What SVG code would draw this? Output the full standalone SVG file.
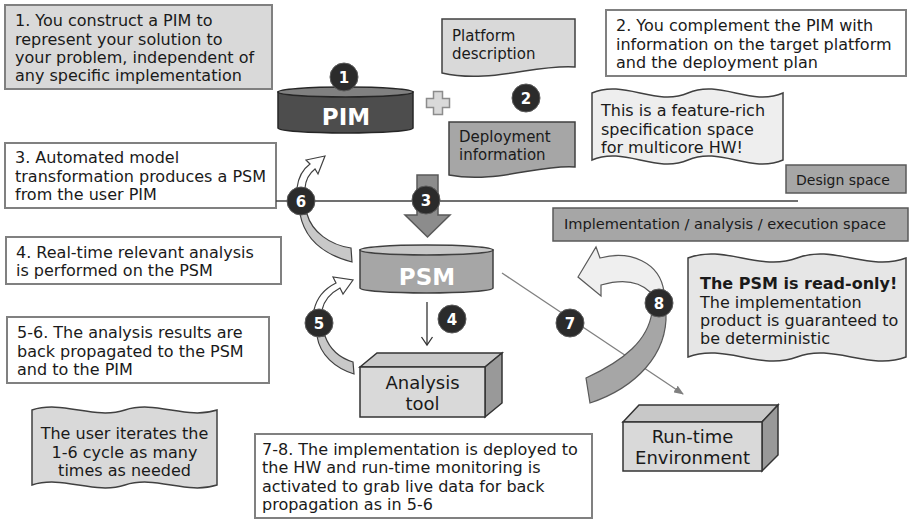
<svg xmlns="http://www.w3.org/2000/svg" width="910" height="520" viewBox="0 0 910 520">
<defs>
<style>
text{font-family:"DejaVu Sans","Verdana",sans-serif;fill:#1a1a1a}
.t{font-size:16px}
.s{font-size:15px}
.m{font-size:14px}
.big{font-size:18px}
.box{stroke:#808080;stroke-width:2}
.shape{stroke:#404040;stroke-width:1.5}
.num circle{fill:#2b2b2b;stroke:#5a5a5a;stroke-width:1}
.num text{fill:#fff;font-weight:bold;font-size:15px;text-anchor:middle}
.cyl text{fill:#fff;font-weight:bold;text-anchor:middle}
.conn{stroke:#404040;stroke-width:1.2}
</style>
<marker id="ah" markerWidth="10" markerHeight="8" refX="9" refY="4" orient="auto" markerUnits="userSpaceOnUse">
<path d="M0,0 L10,4 L0,8 Z" fill="#808080"/>
</marker>
</defs>
<rect width="910" height="520" fill="#fff"/>

<g id="box1">
<rect x="5" y="5" width="267" height="84" fill="#d9d9d9" class="box"/>
<text class="t" x="15" y="26">1. You construct a PIM to</text>
<text class="t" x="15" y="44.5">represent your solution to</text>
<text class="t" x="15" y="63">your problem, independent of</text>
<text class="t" x="15" y="81">any specific implementation</text>
</g>

<g id="box2">
<rect x="606" y="10" width="300" height="66" fill="#fff" class="box"/>
<text class="t" x="616" y="31">2. You complement the PIM with</text>
<text class="t" x="616" y="49.5">information on the target platform</text>
<text class="t" x="616" y="68">and the deployment plan</text>
</g>

<g id="box3">
<rect x="5" y="143" width="271" height="65" fill="#fff" class="box"/>
<text class="t" x="15" y="163">3. Automated model</text>
<text class="t" x="15" y="182">transformation produces a PSM</text>
<text class="t" x="15" y="200">from the user PIM</text>
</g>

<g id="box4">
<rect x="6" y="237" width="275" height="47" fill="#fff" class="box"/>
<text class="t" x="16" y="258">4. Real-time relevant analysis</text>
<text class="t" x="16" y="276">is performed on the PSM</text>
</g>

<g id="box56">
<rect x="7" y="317" width="262" height="66" fill="#fff" class="box"/>
<text class="t" x="17" y="338">5-6. The analysis results are</text>
<text class="t" x="17" y="357">back propagated to the PSM</text>
<text class="t" x="17" y="375">and to the PIM</text>
</g>

<g id="box78">
<rect x="255" y="434" width="337" height="84" fill="#fff" class="box"/>
<text class="t" x="262" y="455">7-8. The implementation is deployed to</text>
<text class="t" x="262" y="473">the HW and run-time monitoring is</text>
<text class="t" x="262" y="492">activated to grab live data for back</text>
<text class="t" x="262" y="510">propagation as in 5-6</text>
</g>

<g id="platform">
<path d="M442 19 H575 V67 C535 64 490 84 442 73 Z" fill="#d9d9d9" class="shape"/>
<text class="s" x="452" y="41">Platform</text>
<text class="s" x="452" y="59">description</text>
</g>

<g id="deployment">
<path d="M449 122 H575 V167 C540 164 495 184 449 175 Z" fill="#a6a6a6" class="shape"/>
<text class="s" x="459" y="142">Deployment</text>
<text class="s" x="459" y="160">information</text>
</g>

<g id="featurerich">
<path d="M592 93 C624 79 656 107 688 93 C720 79 751 107 783 93 L783 160 C751 174 720 146 688 160 C656 174 624 146 592 160 Z" fill="#eeeeee" class="shape"/>
<text class="t" x="601" y="116">This is a feature-rich</text>
<text class="t" x="601" y="134.5">specification space</text>
<text class="t" x="601" y="153">for multicore HW!</text>
</g>

<g id="designspace">
<rect x="786" y="165" width="120" height="28" fill="#a6a6a6" stroke="#595959" stroke-width="1.5"/>
<text class="m" x="796" y="185">Design space</text>
</g>

<g id="implspace">
<rect x="553" y="208" width="355" height="33" fill="#a6a6a6" stroke="#595959" stroke-width="1.5"/>
<text x="564" y="229" font-size="14.6">Implementation / analysis / execution space</text>
</g>

<g id="readonly">
<path d="M688 258 C724 244 760 272 797 258 C833 244 869 272 906 258 L906 357 C869 371 833 343 797 357 C760 371 724 343 688 357 Z" fill="#e6e6e6" class="shape"/>
<text class="t" x="700" y="289" font-weight="bold">The PSM is read-only!</text>
<text class="t" x="700" y="308">The implementation</text>
<text class="t" x="700" y="326">product is guaranteed to</text>
<text class="t" x="700" y="344">be deterministic</text>
</g>

<g id="iterates">
<path d="M32 410 C63 400 94 420 125 410 C156 400 186 420 217 410 L217 485 C186 495 156 475 125 485 C94 495 63 475 32 485 Z" fill="#d9d9d9" class="shape"/>
<text class="t" x="124.5" y="439" text-anchor="middle">The user iterates the</text>
<text class="t" x="124.5" y="458" text-anchor="middle">1-6 cycle as many</text>
<text class="t" x="124.5" y="476" text-anchor="middle">times as needed</text>
</g>

<g id="pim" class="cyl">
<path d="M278 92 V128 A67.5 5 0 0 0 413 128 V92 Z" fill="#4d4d4d" stroke="#262626" stroke-width="1.5"/>
<ellipse cx="345.5" cy="92" rx="67.5" ry="5" fill="#808080" stroke="#262626" stroke-width="1.5"/>
<text x="346" y="125" font-size="23">PIM</text>
</g>

<g id="plus">
<path d="M433.5 91.5 h9 v7 h7 v9 h-7 v7 h-9 v-7 h-7 v-9 h7 Z" fill="#d9d9d9" stroke="#8c8c8c" stroke-width="1.5"/>
</g>

<g id="psm" class="cyl">
<path d="M360 250 V288 A66.5 5 0 0 0 493 288 V250 Z" fill="#a6a6a6" stroke="#404040" stroke-width="1.5"/>
<ellipse cx="426.5" cy="250" rx="66.5" ry="5" fill="#c8c8c8" stroke="#404040" stroke-width="1.5"/>
<text x="427" y="285" font-size="23">PSM</text>
</g>

<g id="analysis">
<polygon points="360,367 377,353 502,353 485,367" fill="#c8c8c8" stroke="#333" stroke-width="1.5"/>
<polygon points="485,367 502,353 502,403 485,417" fill="#999" stroke="#333" stroke-width="1.5"/>
<rect x="360" y="367" width="125" height="50" fill="#d9d9d9" stroke="#333" stroke-width="1.5"/>
<text class="big" x="422.5" y="389" text-anchor="middle">Analysis</text>
<text class="big" x="422.5" y="410" text-anchor="middle">tool</text>
</g>

<g id="runtime">
<polygon points="623,422 639,405 778,405 762,422" fill="#c8c8c8" stroke="#333" stroke-width="1.5"/>
<polygon points="762,422 778,405 778,455 762,471" fill="#999" stroke="#333" stroke-width="1.5"/>
<rect x="623" y="422" width="139" height="49" fill="#d9d9d9" stroke="#333" stroke-width="1.5"/>
<text class="big" x="692.5" y="443" text-anchor="middle">Run-time</text>
<text class="big" x="692.5" y="464" text-anchor="middle">Environment</text>
</g>

<g id="connectors">
<line x1="276" y1="201" x2="798" y2="201" stroke="#404040" stroke-width="1.5"/>
<path d="M417 175 H438 V215 H450 L427.5 237 L405 215 H417 Z" fill="#8c8c8c" stroke="#595959" stroke-width="1.5"/>
<path d="M297 188 Q299 172 310 164 L306 160 L325 156 L318 174 L315 169 Q306 176 305 188 Z" fill="#fff" class="conn"/>
<path d="M300 214 C305 240 325 255 352 262 L351 248 C330 245 312 232 307 214 Z" fill="#c8c8c8" class="conn"/>
<path d="M314 310 Q318 292 336 283 L333 277 L353 280 L343 294 L340 288 Q325 296 322 310 Z" fill="#fff" class="conn"/>
<path d="M317 336 C320 355 335 368 354 374 L353 362 C340 358 330 350 325 336 Z" fill="#c8c8c8" class="conn"/>
<line x1="427" y1="302" x2="427" y2="345" stroke="#333" stroke-width="1.3"/>
<polyline points="421.5,337 427,345 432.5,337" fill="none" stroke="#333" stroke-width="1.3"/>
<line x1="502" y1="273" x2="683" y2="394" stroke="#808080" stroke-width="1.3" marker-end="url(#ah)"/>
<path d="M664 292 C660 262 630 250 600 258 L596 247 L578 277 L601 296 L601 285 C625 278 640 282 650 292 Z" fill="#efefef" stroke="#595959" stroke-width="1.2"/>
<path d="M666 312 C668 355 635 388 590 403 L586 378 C625 360 648 340 652 312 Z" fill="#a6a6a6" stroke="#595959" stroke-width="1.2"/>
</g>

<g id="n1" class="num"><circle cx="344" cy="77" r="14"/><text x="344" y="82.5">1</text></g>
<g id="n2" class="num"><circle cx="526" cy="98" r="14"/><text x="526" y="103.5">2</text></g>
<g id="n3" class="num"><circle cx="426" cy="200" r="14"/><text x="426" y="205.5">3</text></g>
<g id="n4" class="num"><circle cx="452" cy="319" r="14"/><text x="452" y="324.5">4</text></g>
<g id="n5" class="num"><circle cx="319" cy="323" r="14"/><text x="319" y="328.5">5</text></g>
<g id="n6" class="num"><circle cx="301" cy="201" r="14"/><text x="301" y="206.5">6</text></g>
<g id="n7" class="num"><circle cx="570" cy="323" r="14"/><text x="570" y="328.5">7</text></g>
<g id="n8" class="num"><circle cx="659" cy="303" r="14"/><text x="659" y="308.5">8</text></g>
</svg>
